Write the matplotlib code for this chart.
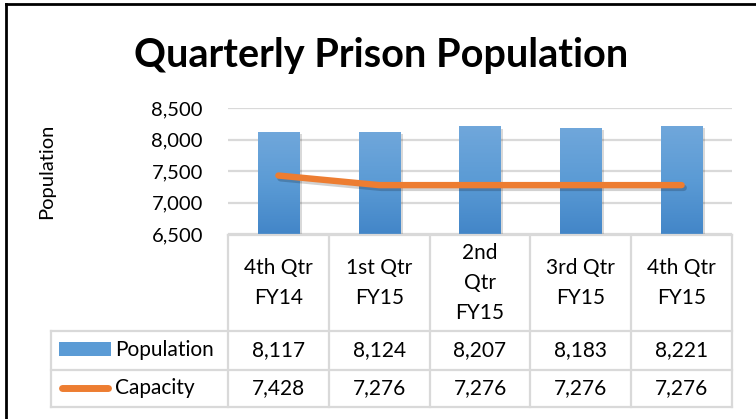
import numpy as np
import matplotlib
matplotlib.use("Agg")
import matplotlib.pyplot as plt
import matplotlib.patheffects as pe
from matplotlib.lines import Line2D
from matplotlib.patches import Rectangle
from matplotlib.colors import LinearSegmentedColormap
from matplotlib.transforms import blended_transform_factory

# ---- data ----
categories = ["4th Qtr\nFY14", "1st Qtr\nFY15", "2nd\nQtr\nFY15", "3rd Qtr\nFY15", "4th Qtr\nFY15"]
population = [8117, 8124, 8207, 8183, 8221]
capacity = [7428, 7276, 7276, 7276, 7276]
series_names = ["Population", "Capacity"]
y_ticks = [6500, 7000, 7500, 8000, 8500]
title = "Quarterly Prison Population"

W, H = 756, 419
plt.rcParams['font.family'] = ['Lato', 'DejaVu Sans']
fig = plt.figure(figsize=(W / 100, H / 100), dpi=100)

def fx(x):
    return x / W

def fy(y):
    return 1 - y / H

BLUE = "#5b9bd5"
ORANGE = "#ed7d31"
GRID = "#d9d9d9"
FS = 14.5
TFS = 15

# axes: x 228..732, y 108..234
ax = fig.add_axes([fx(228), fy(234), fx(732) - fx(228), (234 - 108) / H])
ymin, ymax = y_ticks[0], y_ticks[-1]
ax.set_xlim(-0.5, len(categories) - 0.5)
ax.set_ylim(ymin, ymax)
ax.set_yticks(y_ticks)
ax.set_yticklabels([f"{v:,}" for v in y_ticks], fontsize=FS)
ax.tick_params(axis='y', length=0, pad=18)
ax.set_xticks([])
for s in ax.spines.values():
    s.set_visible(False)
ax.yaxis.grid(True, color=GRID, linewidth=1.6)
ax.set_axisbelow(True)
ax.patch.set_alpha(0)

x = np.arange(len(categories))
bw = 0.41
bars = ax.bar(x, population, width=bw, color=BLUE, zorder=2,
              path_effects=[pe.SimplePatchShadow(offset=(2, -1.5), alpha=0.15, shadow_rgbFace='k'),
                            pe.Normal()])
cmap = LinearSegmentedColormap.from_list("g", ["#4386c8", "#5b9bd5", "#70a7db"])
grad = np.linspace(0, 1, 100).reshape(-1, 1)
for b in bars:
    x0 = b.get_x()
    top = b.get_height()
    clip = Rectangle((x0, ymin), bw, top - ymin, transform=ax.transData)
    im = ax.imshow(grad, cmap=cmap, origin='lower', aspect='auto',
                   extent=[x0, x0 + bw, ymin, top], zorder=3)
    im.set_clip_path(clip)
ax.set_xlim(-0.5, len(categories) - 0.5)
ax.set_ylim(ymin, ymax)

ax.plot(x, capacity, color=ORANGE, linewidth=4.6, solid_capstyle='round', zorder=4,
        path_effects=[pe.SimpleLineShadow(offset=(1.5, -2), alpha=0.18), pe.Normal()])

ax.set_ylabel("Population", fontsize=FS)
axw = fx(732) - fx(228)
ax.yaxis.set_label_coords((fx(55) - fx(228)) / axw, 0.5)

# title
fig.text(fx(381), fy(67), title, ha='center', va='baseline', fontsize=28.5, fontweight='bold')

# ---- data table ----
col_edges = [228 + i * (732 - 228) / len(categories) for i in range(len(categories) + 1)]
tlw = 1.6
def hline(y, x0, x1):
    fig.add_artist(Line2D([fx(x0), fx(x1)], [fy(y), fy(y)], color=GRID, linewidth=tlw))
def vline(xp, y0, y1):
    fig.add_artist(Line2D([fx(xp), fx(xp)], [fy(y0), fy(y1)], color=GRID, linewidth=tlw))

hline(235, 228, 732)
for yy in (331, 370, 407):
    hline(yy, 51, 732)
vline(51, 331, 407)
for ce in col_edges:
    vline(ce, 235, 407)

bt = blended_transform_factory(ax.transData, fig.transFigure)
for i, c in enumerate(categories):
    fig.text(x[i], fy(283), c, transform=bt, ha='center', va='center', fontsize=TFS,
             linespacing=1.6)
    fig.text(x[i], fy(350), f"{population[i]:,}", transform=bt, ha='center', va='center',
             fontsize=TFS)
    fig.text(x[i], fy(388), f"{capacity[i]:,}", transform=bt, ha='center', va='center',
             fontsize=TFS)

# legend keys
fig.add_artist(Rectangle((fx(59), fy(356)), fx(111) - fx(59), (356 - 342) / H,
                         facecolor=BLUE, edgecolor='none'))
fig.add_artist(Line2D([fx(62), fx(108)], [fy(388), fy(388)], color=ORANGE, linewidth=5,
                      solid_capstyle='round'))
fig.text(fx(115), fy(350), series_names[0], ha='left', va='center', fontsize=TFS)
fig.text(fx(115), fy(388), series_names[1], ha='left', va='center', fontsize=TFS)

# outer border (cropped chart frame)
fig.add_artist(Line2D([fx(6), fx(6)], [fy(4), 0], color='black', linewidth=2))
fig.add_artist(Line2D([fx(6), 1], [fy(4), fy(4)], color='black', linewidth=2))

fig.savefig("out.png", dpi=100)
